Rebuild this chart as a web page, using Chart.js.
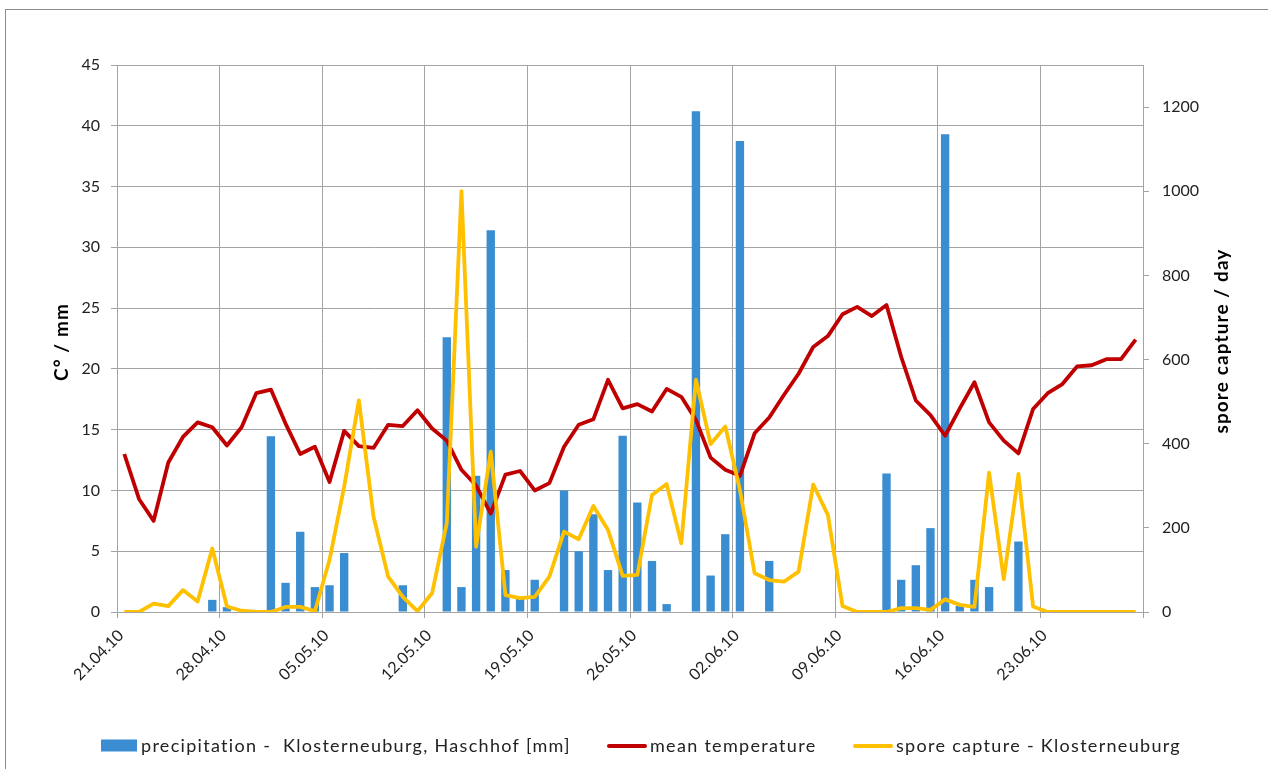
<!DOCTYPE html>
<html>
<head>
<meta charset="utf-8">
<title>Precipitation, temperature and spore capture - Klosterneuburg 2010</title>
<script src="https://cdn.jsdelivr.net/npm/chart.js@4.4.1/dist/chart.umd.min.js"></script>
<style>
    html, body { margin: 0; padding: 0; background: #fff; }
    #chart1 { display: block; }
</style>
</head>
<body>
<canvas id="chart1" width="1268" height="769"></canvas>
<script>
const chart1 = document.querySelector('#chart1');

// one value per day, 21.04.10 ... 29.06.10
const dayCount = 70;
const tickLabels = ['21.04.10', '28.04.10', '05.05.10', '12.05.10', '19.05.10',
    '26.05.10', '02.06.10', '09.06.10', '16.06.10', '23.06.10'];

// mm
const precipitation = [
    0, 0, 0, 0, 0, 0, 1.0, 0.4, 0, 0,
    14.45, 2.4, 6.6, 2.05, 2.2, 4.85, 0, 0, 0, 2.2,
    0, 0, 22.6, 2.05, 11.2, 31.4, 3.45, 1.2, 2.65, 0,
    10.0, 5.0, 8.05, 3.45, 14.5, 9.0, 4.2, 0.65, 0, 41.2,
    3.0, 6.4, 38.75, 0, 4.2, 0, 0, 0, 0, 0,
    0, 0, 11.4, 2.65, 3.85, 6.9, 39.3, 0.5, 2.65, 2.05,
    0, 5.8, 0, 0, 0, 0, 0, 0, 0, 0
];

// °C
const meanTemperature = [
    13.0, 9.3, 7.5, 12.3, 14.4, 15.6, 15.2, 13.7, 15.2, 18.0,
    18.3, 15.5, 13.0, 13.6, 10.7, 14.9, 13.65, 13.5, 15.4, 15.3,
    16.6, 15.1, 14.1, 11.7, 10.4, 8.1, 11.3, 11.6, 10.0, 10.6,
    13.6, 15.4, 15.85, 19.1, 16.75, 17.1, 16.5, 18.35, 17.7, 15.8,
    12.7, 11.7, 11.2, 14.7, 16.0, 17.85, 19.6, 21.8, 22.7, 24.5,
    25.1, 24.35, 25.25, 21.0, 17.4, 16.2, 14.5, 16.75, 18.9, 15.6,
    14.1, 13.05, 16.7, 18.0, 18.75, 20.2, 20.3, 20.8, 20.8, 22.4
];

// spores / day
const sporeCapture = [
    0, 0, 20, 14, 52, 25, 151, 13, 3, 0,
    0, 12, 12, 2, 124, 298, 503, 227, 84, 36,
    2, 45, 211, 1000, 155, 381, 40, 33, 36, 84,
    191, 173, 252, 195, 86, 88, 278, 304, 163, 552,
    399, 441, 290, 92, 76, 72, 96, 303, 231, 14,
    0, 0, 0, 9, 9, 5, 30, 17, 12, 331,
    78, 328, 13, 0, 0, 0, 0, 0, 0, 0
];

const gridColor = '#a3a3a3';
const textColor = '#222222';
const fontFamily = 'Lato, "Open Sans", sans-serif';

// gridlines sit between the days, every 7 days (plus the right edge)
const tickPositions = [];
for (let i = 0; i <= tickLabels.length; i++) {
    tickPositions.push(Math.min(i * 7, dayCount) - 0.5);
}

const toPoints = (values) => values.map((v, i) => ({ x: i, y: v }));

// axis titles, legend and outer frame drawn by hand to match the excel layout
const extrasPlugin = {
    id: 'extras',
    afterDraw: (chart) => {
        const ctx = chart.ctx;
        const sets = chart.data.datasets;
        ctx.save();

        ctx.strokeStyle = '#8c8c8c';
        ctx.lineWidth = 1;
        ctx.strokeRect(5.5, 9.5, 1400, 900);

        ctx.fillStyle = '#000';
        ctx.font = 'bold 19px ' + fontFamily;
        ctx.letterSpacing = '1.1px';
        ctx.textAlign = 'center';
        ctx.textBaseline = 'middle';
        const drawTitle = (text, x, y) => {
            ctx.save();
            ctx.translate(x, y);
            ctx.rotate(-Math.PI / 2);
            ctx.fillText(text, 0, 0);
            ctx.restore();
        };
        drawTitle('C° / mm', 62, 342);
        drawTitle('spore capture / day', 1222, 341);

        // legend
        const legendY = 746;
        const items = [
            { set: sets[0], keyX: 101, keyW: 36, textX: 141 },
            { set: sets[1], keyX: 607, keyW: 40, textX: 650 },
            { set: sets[2], keyX: 853, keyW: 40, textX: 896 }
        ];
        ctx.font = '18px ' + fontFamily;
        ctx.letterSpacing = '1.3px';
        ctx.textAlign = 'left';
        items.forEach((item) => {
            if (item.set.type === 'bar') {
                ctx.fillStyle = item.set.backgroundColor;
                ctx.fillRect(item.keyX, legendY - 6.5, item.keyW, 12);
            } else {
                ctx.strokeStyle = item.set.borderColor;
                ctx.lineWidth = 4;
                ctx.lineCap = 'round';
                ctx.beginPath();
                ctx.moveTo(item.keyX + 2, legendY);
                ctx.lineTo(item.keyX + item.keyW - 2, legendY);
                ctx.stroke();
            }
            ctx.fillStyle = textColor;
            ctx.fillText(item.set.label, item.textX, legendY);
        });

        ctx.restore();
    }
};

const data = {
    datasets: [{
        type: 'bar',
        label: 'precipitation -  Klosterneuburg, Haschhof [mm]',
        data: toPoints(precipitation),
        yAxisID: 'y',
        backgroundColor: '#3a8dd0',
        borderWidth: 0,
        barPercentage: 0.57,
        categoryPercentage: 1,
        order: 2
    }, {
        type: 'line',
        label: 'mean temperature',
        data: toPoints(meanTemperature),
        yAxisID: 'y',
        borderColor: '#c00000',
        backgroundColor: '#c00000',
        borderWidth: 3.8,
        borderJoinStyle: 'round',
        pointRadius: 0,
        tension: 0,
        order: 1
    }, {
        type: 'line',
        label: 'spore capture - Klosterneuburg',
        data: toPoints(sporeCapture),
        yAxisID: 'y1',
        borderColor: '#ffc000',
        backgroundColor: '#ffc000',
        borderWidth: 3.8,
        borderJoinStyle: 'round',
        pointRadius: 0,
        tension: 0,
        order: 0
    }]
};

const config = {
    type: 'bar',
    data: data,
    options: {
        responsive: false,
        animation: false,
        layout: { padding: { top: 65, left: 0, right: 0, bottom: 0 } },
        plugins: {
            legend: { display: false },
            tooltip: { enabled: false }
        },
        scales: {
            x: {
                type: 'linear',
                offset: false,
                min: -0.5,
                max: dayCount - 0.5,
                afterBuildTicks: (scale) => {
                    scale.ticks = tickPositions.map((v) => ({ value: v }));
                },
                afterFit: (scale) => { scale.height = 157; },
                grid: { color: gridColor, tickLength: 6, offset: false },
                border: { color: gridColor },
                ticks: {
                    autoSkip: false,
                    maxRotation: 45,
                    minRotation: 45,
                    padding: 8,
                    labelOffset: 4,
                    color: textColor,
                    font: { family: fontFamily, size: 16 },
                    callback: (value) => tickLabels[(value + 0.5) / 7] ?? ''
                }
            },
            y: {
                position: 'left',
                min: 0,
                max: 45,
                afterFit: (scale) => { scale.width = 117; },
                grid: { color: gridColor, tickLength: 6 },
                border: { color: gridColor },
                ticks: {
                    stepSize: 5,
                    padding: 11,
                    color: textColor,
                    font: { family: fontFamily, size: 16 }
                }
            },
            y1: {
                position: 'right',
                min: 0,
                max: 1300,
                afterFit: (scale) => { scale.width = 125; },
                grid: { drawOnChartArea: false, color: gridColor, tickLength: 6 },
                border: { color: gridColor },
                ticks: {
                    stepSize: 200,
                    includeBounds: false,
                    padding: 13,
                    color: textColor,
                    font: { family: fontFamily, size: 16 },
                    callback: (value) => String(value)
                }
            }
        }
    },
    plugins: [extrasPlugin]
};

new Chart(chart1, config);
</script>
</body>
</html>
